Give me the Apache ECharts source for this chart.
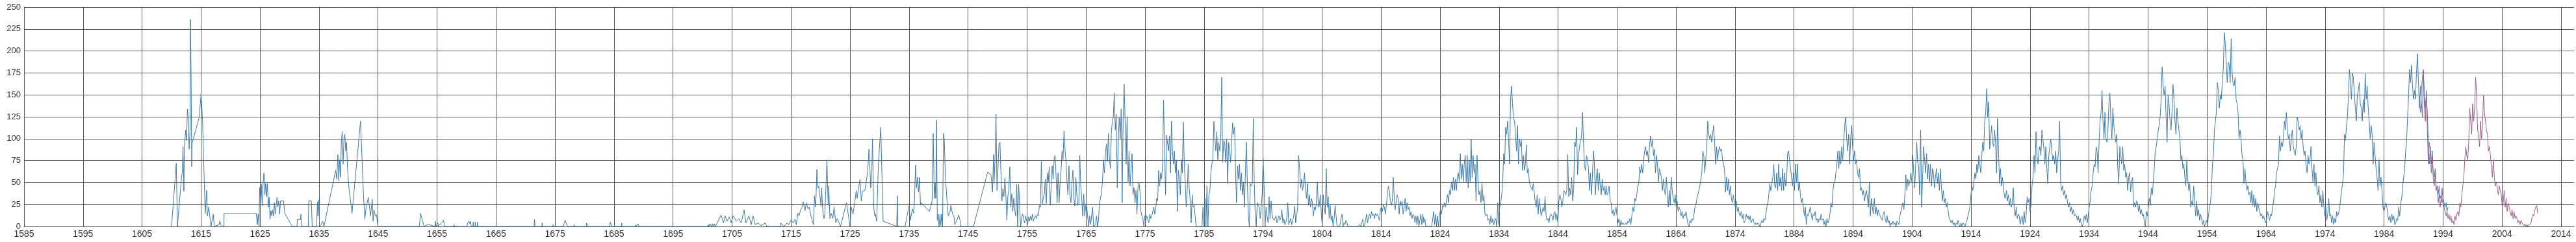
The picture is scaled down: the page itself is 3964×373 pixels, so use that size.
<!DOCTYPE html>
<html><head><meta charset="utf-8">
<script src="https://cdn.jsdelivr.net/npm/echarts@6/dist/echarts.min.js"></script>
<style>html,body{margin:0;padding:0;background:#fff}#c{width:3964px;height:373px}</style>
</head><body><div id="c"></div>
<script>
// x tick labels (one per major gridline)
const xTickLabels = ['1585','1595','1605','1615','1625','1635','1645','1655','1665','1675','1685','1695','1705','1715','1725','1735','1745','1755','1765','1775','1785','1794','1804','1814','1824','1834','1844','1854','1864','1874','1884','1894','1904','1914','1924','1934','1944','1954','1964','1974','1984','1994','2004','2014'];
const firstTickYear = 1585;
const yearsPerTick = 9.9755;
const lastDivision = 43.22;
const yMin = 0, yMax = 250, yStep = 25;

// Sparse early observations [year, value]
const earlyPoints = [[1609.94,0],[1610.74,72],[1610.93,0],[1611.6,54],[1611.74,61],[1611.88,91],[1612.03,40],[1612.1,88],[1612.32,110],[1612.47,98],[1612.62,134],[1612.76,125],[1612.91,88],[1613.06,110],[1613.13,236],[1613.18,205],[1613.24,177],[1613.35,68],[1613.42,95],[1614.6,124],[1614.93,151],[1615.19,120],[1615.33,83],[1615.63,15],[1615.88,41],[1615.99,12],[1616.22,22],[1616.62,0],[1616.99,14],[1617.17,0],[1617.98,2],[1618.09,6],[1618.27,2],[1618.42,3],[1618.57,0],[1618.8,0],[1618.82,15],[1624.26,15],[1624.44,2],[1624.59,14],[1624.74,0],
[1624.83,44],[1624.97,27],[1625.12,48],[1625.27,24],[1625.41,49],[1625.56,61],[1625.71,36],[1625.86,49],[1626.0,34],[1626.15,49],[1626.3,22],[1626.44,33],[1626.59,8],[1626.74,18],[1626.89,12],[1627.03,19],[1627.18,12],[1627.33,27],[1627.47,14],[1627.77,33],[1627.91,22],[1628.06,29],[1628.21,14],[1628.36,29],[1628.87,29],[1629.09,15],[1630.34,0],[1631.15,0],[1631.22,8],[1631.74,8],[1631.81,14],[1631.89,0],[1633.06,0],[1633.14,29],[1633.58,29],[1633.72,0],[1634.46,0],[1634.61,28],[1634.68,12],[1634.83,30],[1634.97,0],[1635.27,2],[1635.49,6],[1635.71,0],[1637.69,64],[1637.88,54],[1638.06,82],[1638.21,52],[1638.36,76],[1638.5,56],[1638.65,98],[1638.8,108],[1638.94,71],[1639.09,100],[1639.24,105],[1639.39,86],[1639.53,96],[1639.68,68],[1639.9,46],[1640.45,15],[1641.89,120],[1642.4,34],[1642.62,8],[1642.84,22],[1643.21,33],[1643.58,12],[1643.87,31],[1644.02,6],[1644.16,19],[1644.39,12],[1644.61,13],[1644.83,0],[1651.85,0],[1652.03,15],[1652.62,0],[1653.21,2],[1653.5,2],[1654.46,0],[1654.53,6],[1654.61,0],[1654.97,4],[1655.05,0],[1655.93,7],[1656.08,0],
[1657.6,0],[1657.7,2],[1657.8,0],[1659.9,0],[1660.0,4],[1660.2,6],[1660.35,3],[1660.5,6],[1660.6,0],[1660.9,0],[1660.95,5],[1661.0,0],[1661.25,0],[1661.3,5],[1661.35,0],[1661.65,0],[1661.7,5],[1661.75,0],[1671.25,0],[1671.3,8],[1671.4,0],[1672.55,0],[1672.6,4],[1672.65,0],[1674.4,0],[1674.45,2],[1674.5,0],[1676.2,0],[1676.35,4],[1676.5,7],[1676.7,3],[1676.9,0],[1677.95,0],[1678.0,2],[1678.05,0],[1680.05,0],[1680.1,4],[1680.3,4],[1680.35,0],[1684.05,0],[1684.1,5],[1684.3,5],[1684.35,0],[1686.0,0],[1686.05,4],[1686.1,0],[1687.5,0],[1687.6,1],[1687.8,0],[1688.4,0],[1688.45,2],[1688.55,0],[1688.75,0],[1688.8,3],[1688.95,3],[1689.0,0],[1695.15,0],[1695.2,1],[1695.25,0],[1700.6,0],[1700.7,2],[1700.8,0],[1701.0,3],[1701.2,0],[1701.4,3],[1701.5,0],[1701.7,3],[1701.85,0],
[1702.05,2],[1702.85,13],[1703.25,4],[1703.55,12],[1703.85,6],[1704.25,11],[1704.55,4],[1704.9,12],[1705.45,6],[1705.85,9],[1706.25,4],[1706.75,19],[1707.05,4],[1707.55,12],[1707.95,2],[1708.25,12],[1708.65,2],[1709.15,4],[1709.6,1],[1710.35,4],[1710.55,0],[1712.9,0],[1712.95,4],[1713.45,0],[1714.05,4],[1714.25,2],[1714.65,7],[1715.05,4],[1715.35,8],[1715.55,2],[1715.85,15],[1716.05,12],[1716.25,18],[1716.55,22],[1716.75,28],[1717.05,18],[1717.25,27],[1717.55,20],[1717.75,22],[1718.05,12],[1718.25,7],[1718.45,2],[1718.65,35],[1718.85,22],[1719.05,65],[1719.25,44],[1719.35,46],[1719.55,36],[1719.75,23],[1719.85,44],[1720.05,17],[1720.25,9],[1720.4,14],[1720.55,14],[1720.75,76],[1720.95,24],[1721.05,46],[1721.25,9],[1721.45,15],[1721.75,9],[1721.95,22],[1722.25,4],[1722.5,9],[1723.05,0],[1724.05,27],[1724.35,14],[1724.65,0],[1724.85,22],[1725.15,14],[1725.45,27],[1725.7,41],[1725.85,32],[1726.15,46],[1726.35,54],[1726.55,29],[1726.75,40],[1727.15,41],[1727.35,49],[1727.65,64],[1727.85,88],[1727.95,76],[1728.15,44],[1728.35,66],[1728.45,100],[1728.65,22],[1728.85,12],[1728.95,14],[1729.15,6],[1729.45,71],[1729.85,113],[1730.0,71],[1730.25,6],[1732.55,0],[1732.65,35],[1732.75,0],[1733.95,0],[1734.65,24],[1734.85,7],[1735.2,20],[1735.4,15],[1735.55,30],[1735.72,70],[1735.89,44],[1736.06,56],[1736.23,39],[1736.4,56],[1736.56,25],[1736.69,27],
[1738.09,17],[1738.53,29],[1738.72,106],[1738.9,32],[1739.05,50],[1739.16,32],[1739.27,121],[1739.41,7],[1739.56,14],[1739.71,0],[1739.86,14],[1740.0,1],[1740.15,14],[1740.3,0],[1740.45,106],[1740.6,98],[1740.74,64],[1740.93,41],[1741.11,23],[1741.26,12],[1741.41,14],[1741.55,16],[1741.7,24],[1741.85,24],[1742.0,14],[1742.22,12],[1742.36,2],[1742.77,8],[1743.03,13],[1743.25,7],[1743.4,0],[1745.53,0],[1747.92,62],[1748.48,59],[1748.74,39],[1748.92,82]];

// Regular series: six readings per year from 1749
const groupStartYear = 1749;
const readingsPerYear = 6;
const groupValues = [
49,76,128,41,66,94, 96,61,29,43,34,55,
36,7,34,42,68,22, 37,17,32,19,12,48,
0,48,24,0,9,14, 14,4,12,7,2,11,
6,12,7,14,6,10, 12,9,14,12,24,22,
74,26,32,37,54,26, 61,51,68,24,46,69,
54,78,81,56,27,61, 27,49,64,86,76,109,
88,74,51,36,69,36, 27,49,64,32,23,56,
36,24,26,81,46,32, 12,37,12,24,22,12,
0,12,2,12,22,0, 0,2,12,0,7,27,
32,39,51,76,61,83, 94,74,106,78,66,106,
120,125,152,110,128,44, 96,125,100,134,27,125,
162,120,71,124,51,86, 46,66,83,36,44,27,
41,14,44,51,41,17, 12,9,0,12,7,12,
12,4,14,9,12,17, 22,14,20,32,29,64,
46,61,54,73,144,86, 36,104,105,86,103,61,
120,86,71,86,61,76, 17,64,54,36,76,61,
119,73,49,22,41,71, 44,29,4,36,22,24,
12,0,0,0,0,0, 0,0,22,0,32,0,
46,0,36,41,61,71, 76,120,103,86,108,76,
96,86,100,170,73,98, 96,73,100,49,96,86,
73,96,118,105,113,64, 27,69,54,71,41,61,
36,51,22,61,96,49, 12,0,49,46,49,123,
49,12,0,27,24,22, 9,22,36,78,44,0,
22,12,4,34,9,29, 14,9,7,9,12,4,
4,12,7,10,19,4, 9,2,5,9,27,2,
2,9,2,7,12,23, 4,12,22,81,66,44,
54,41,49,61,41,32, 49,24,36,22,32,27,
12,22,19,27,51,22, 24,36,14,0,36,22,
14,66,22,34,9,24, 7,12,0,9,24,12,
0,0,0,2,9,14, 0,4,2,7,4,0,
0,0,0,0,0,0, 0,0,0,0,0,2,
0,4,8,0,2,2, 14,4,12,14,9,17,
12,14,9,15,12,14, 15,7,19,22,17,25,
22,14,24,36,46,41, 29,24,29,56,34,19,
29,36,32,14,29,24, 29,14,22,32,17,27,
19,22,12,17,9,14, 12,4,12,2,12,0,
0,14,2,14,4,9, 0,0,0,0,0,0,
0,0,17,2,14,0, 12,0,14,19,14,24,
22,27,22,29,36,27, 41,36,51,41,56,41,
54,41,56,61,51,83, 54,71,51,71,81,51,
81,44,76,51,100,56, 81,61,71,29,81,51,
36,41,27,49,29,36, 14,12,14,7,9,2,
12,4,9,2,7,9, 0,27,2,22,27,36,
49,83,71,113,105,120, 98,71,145,160,140,123,
120,105,86,115,71,100, 91,98,64,81,64,71,
93,61,66,51,46,44, 41,49,39,27,22,36,
14,32,22,12,17,22, 17,34,12,7,9,4,
12,14,12,7,14,17, 7,14,4,29,36,32,
22,29,41,39,36,41, 82,34,44,36,56,29,
41,96,91,113,59,81, 91,98,103,130,96,68,
64,81,76,66,41,61, 36,56,86,73,36,56,
66,41,61,46,36,54, 41,46,36,46,36,39,
46,29,27,14,19,12, 17,22,12,4,9,0,
7,2,4,2,3,4, 2,6,4,9,2,12,
22,17,32,29,36,46, 49,68,61,71,61,76,
86,91,81,86,73,93, 103,91,98,81,88,61,
81,71,51,66,61,56, 41,54,41,36,56,36,
22,41,24,56,41,32, 27,36,22,29,17,22,
19,12,17,9,14,12, 17,9,2,0,7,4,
9,7,14,22,24,32, 36,41,46,54,61,86,
81,61,76,91,120,105, 100,105,96,105,115,96,
71,91,76,86,91,86, 88,76,71,66,39,56,
41,54,36,46,32,27, 36,27,22,29,17,22,
14,12,17,9,14,4, 7,14,9,12,7,12,
4,7,9,4,2,4, 2,4,2,0,4,7,
4,9,7,14,22,27, 36,49,41,49,56,71,
46,44,61,41,71,46, 56,41,66,41,61,46,
51,83,86,76,66,66, 46,61,41,71,51,71,
41,51,36,27,32,22, 12,22,2,14,12,17,
22,14,7,14,12,17, 7,9,4,9,7,14,
7,9,2,7,0,9, 4,7,14,27,22,41,
49,51,61,71,86,66, 86,71,91,76,98,115,
125,100,86,105,71,100, 115,91,76,86,71,76,
61,56,66,41,44,36, 41,29,36,41,32,22,
51,12,32,22,14,32, 14,22,12,19,14,12,
9,7,14,17,9,4, 12,4,7,0,4,2,
6,2,4,0,6,4, 2,12,17,22,27,19,
36,59,41,54,46,51, 61,51,81,61,44,71,
96,73,68,36,110,22, 56,91,76,61,83,54,
71,51,71,46,66,61, 44,56,66,49,61,41,
66,46,29,41,27,32, 22,27,17,9,7,4,
7,2,4,0,4,2, 7,2,0,4,0,4,
2,0,4,7,12,17, 22,36,46,41,51,61,
54,71,61,81,71,61, 81,96,86,120,130,157,
125,142,88,100,115,96, 91,110,96,61,123,86,
49,66,46,56,44,34, 32,41,29,36,24,32,
22,27,44,17,12,22, 9,14,12,2,9,12,
2,17,4,12,34,27, 32,17,24,46,56,81,
61,108,81,71,86,91, 81,110,100,88,71,91,
66,49,81,91,100,86, 76,81,71,86,61,76,
86,120,51,41,46,36, 41,32,36,27,22,27,
17,22,14,19,12,14, 12,7,12,4,9,2,
0,4,12,7,14,4, 12,22,29,41,46,61,
71,68,91,86,61,96, 120,130,155,120,100,130,
100,96,110,140,152,120, 100,135,115,105,96,105,
66,49,91,81,71,91, 64,71,56,61,41,56,
61,39,51,56,22,27, 22,29,27,17,24,14,
19,12,14,4,0,17, 12,22,32,24,44,36,
51,66,86,91,100,110, 115,125,145,182,160,150,
160,125,96,150,140,120, 110,130,162,145,120,105,
135,120,110,100,76,81, 66,71,56,46,76,54,
41,49,22,29,24,46, 29,12,29,12,19,7,
14,9,2,7,0,4, 7,2,12,22,27,41,
71,81,110,120,130,164, 155,135,150,145,164,179,
221,209,187,164,187,184, 164,214,175,162,160,170,
145,140,130,100,110,100, 81,76,49,66,51,41,
46,36,39,27,41,24, 36,22,32,17,27,22,
17,12,14,9,12,7, 4,9,17,12,7,14,
12,22,27,41,46,61, 66,71,103,86,96,91,
100,120,110,130,110,100, 105,86,100,110,91,86,
81,91,125,120,110,115, 100,110,91,81,86,71,
61,81,71,76,91,66, 51,71,46,61,41,36,
46,27,36,22,41,24, 12,22,7,14,32,12,
14,4,12,2,9,4, 17,12,14,22,30,41,
48,60,105,98,115,125, 150,179,164,145,175,170,
150,135,120,150,155,164, 140,135,120,145,130,175,
145,160,135,120,100,115, 105,71,96,81,66,56,
41,76,46,56,41,22, 17,22,27,22,12,7,
12,4,14,7,12,2, 4,9,7,22,12,27,
32,46,56,66,86,98, 125,150,179,164,184,160,
145,155,145,175,197,164, 135,160,140,125,177,150,
135,150,130,96,71,91, 71,86,61,56,66,46,
41,36,46,32,36,27, 32,27,22,27,17,22
];

// Second (newer) series, six readings per year from 1990
const newStartYear = 1990;
const newValues = [
145,130,155,170,179,135, 120,155,110,71,96,86,
61,81,54,46,61,41, 46,27,36,22,32,44,
27,22,22,12,17,9, 14,7,12,4,7,2,
12,7,14,17,12,27, 22,36,46,56,76,91,
81,76,96,135,120,105, 140,120,135,170,150,110,
105,91,120,100,115,150, 130,120,110,105,86,91,
81,81,56,76,56,46, 51,44,36,46,41,36,
22,27,41,22,32,17, 27,22,17,12,19,9,
17,9,12,9,4,7, 2,7,4,4,1,3,
0,2,0,2,1,3, 9,14,12,19,22,24,
15
];

const toDiv = y => (y - firstTickYear) / yearsPerTick;
const blueData = earlyPoints.map(p => [toDiv(p[0]), p[1]])
  .concat(groupValues.map((v, i) => [toDiv(groupStartYear + i / readingsPerYear), v]));
const pinkData = newValues.map((v, i) => [toDiv(newStartYear + i / readingsPerYear), v]);

const gridColor = '#585858';
const labelFont = 'Liberation Sans, Arial, sans-serif';
const chart = echarts.init(document.getElementById('c'), null, {renderer: 'canvas'});
chart.setOption({
  animation: false,
  backgroundColor: '#ffffff',
  grid: {left: 37, right: 0, top: 11, bottom: 24, containLabel: false},
  xAxis: {
    type: 'value', min: 0, max: lastDivision, interval: 1,
    axisLine: {show: true, lineStyle: {color: gridColor, width: 1}},
    axisTick: {show: false},
    splitLine: {show: true, showMaxLine: false, lineStyle: {color: gridColor, width: 1}},
    axisLabel: {
      margin: 5, color: '#333', fontSize: 14, fontFamily: labelFont,
      formatter: v => { const i = Math.round(v); return Math.abs(v - i) < 1e-6 ? (xTickLabels[i] || '') : ''; }
    }
  },
  yAxis: {
    type: 'value', min: yMin, max: yMax, interval: yStep,
    axisLine: {show: true, lineStyle: {color: gridColor, width: 1}},
    axisTick: {show: false},
    splitLine: {show: true, lineStyle: {color: gridColor, width: 1}},
    axisLabel: {margin: 5, color: '#333', fontSize: 13, fontFamily: labelFont}
  },
  series: [
    {type: 'line', data: blueData, showSymbol: false, symbol: 'none', silent: true,
     lineStyle: {color: '#3f7aab', width: 1}, itemStyle: {color: '#3f7aab'}, z: 2},
    {type: 'line', data: pinkData, showSymbol: false, symbol: 'none', silent: true,
     lineStyle: {color: '#9a6089', width: 1}, itemStyle: {color: '#9a6089'}, z: 3}
  ]
});
</script>
</body></html>
